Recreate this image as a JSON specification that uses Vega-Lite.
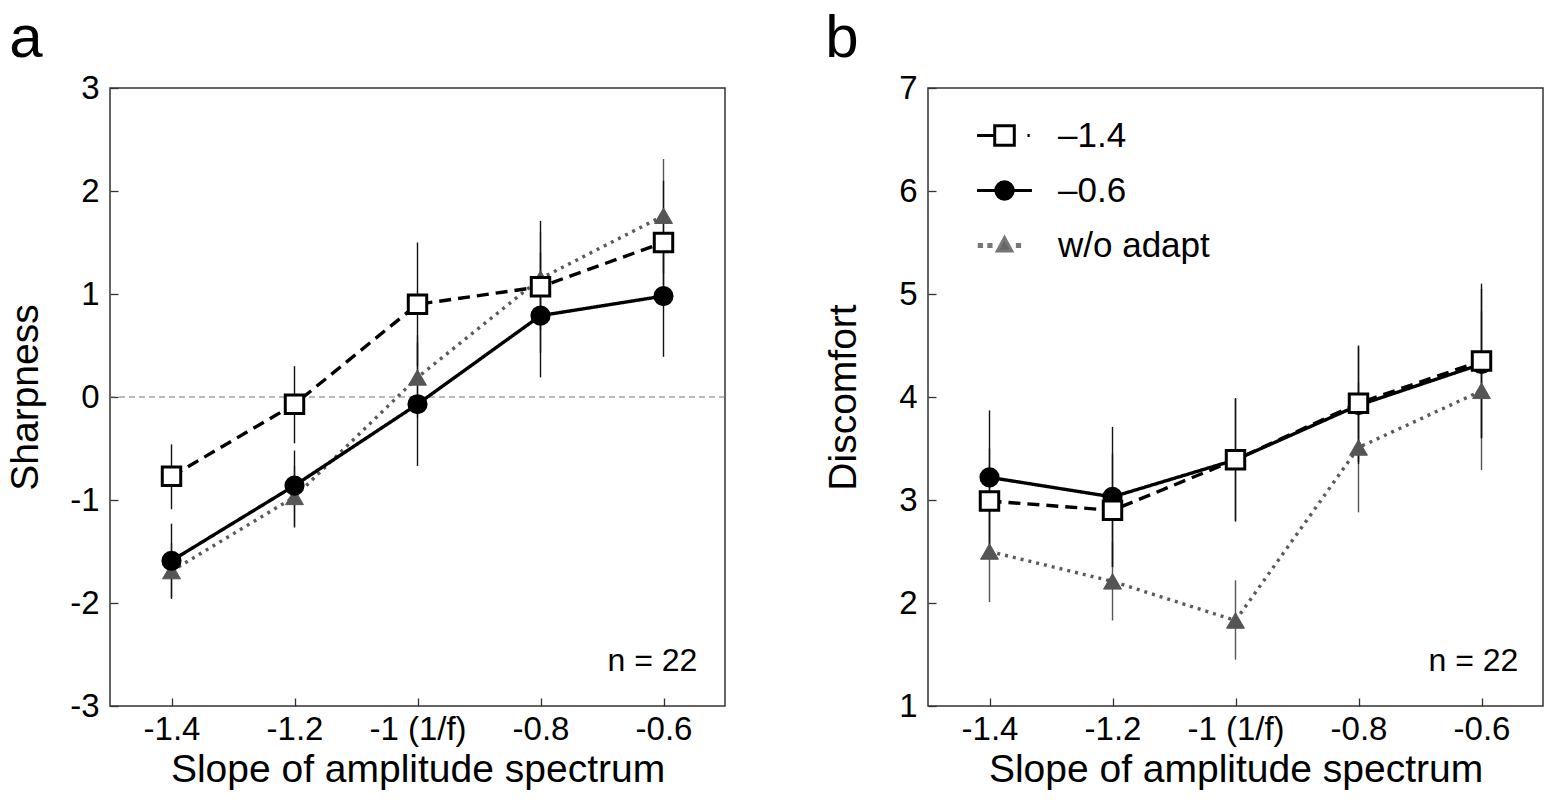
{
  "$schema": "https://vega.github.io/schema/vega-lite/v6.json",
  "padding": {"left": 5, "top": 8, "right": 5, "bottom": 5},
  "background": "white",
  "datasets": {
    "pts": [
      {"panel": "a", "series": "w/o adapt", "slope": -1.4, "mean": -1.69, "lo": -1.95, "hi": -1.42},
      {"panel": "a", "series": "w/o adapt", "slope": -1.2, "mean": -0.97, "lo": -1.27, "hi": -0.67},
      {"panel": "a", "series": "w/o adapt", "slope": -1.0, "mean": 0.19, "lo": -0.2, "hi": 0.6},
      {"panel": "a", "series": "w/o adapt", "slope": -0.8, "mean": 1.15, "lo": 0.65, "hi": 1.6},
      {"panel": "a", "series": "w/o adapt", "slope": -0.6, "mean": 1.76, "lo": 1.2, "hi": 2.31},
      {"panel": "a", "series": "–0.6", "slope": -1.4, "mean": -1.59, "lo": -1.96, "hi": -1.23},
      {"panel": "a", "series": "–0.6", "slope": -1.2, "mean": -0.86, "lo": -1.26, "hi": -0.52},
      {"panel": "a", "series": "–0.6", "slope": -1.0, "mean": -0.07, "lo": -0.67, "hi": 0.53},
      {"panel": "a", "series": "–0.6", "slope": -0.8, "mean": 0.79, "lo": 0.19, "hi": 1.4},
      {"panel": "a", "series": "–0.6", "slope": -0.6, "mean": 0.98, "lo": 0.39, "hi": 1.57},
      {"panel": "a", "series": "–1.4", "slope": -1.4, "mean": -0.77, "lo": -1.09, "hi": -0.46},
      {"panel": "a", "series": "–1.4", "slope": -1.2, "mean": -0.07, "lo": -0.45, "hi": 0.3},
      {"panel": "a", "series": "–1.4", "slope": -1.0, "mean": 0.9, "lo": 0.3, "hi": 1.5},
      {"panel": "a", "series": "–1.4", "slope": -0.8, "mean": 1.07, "lo": 0.43, "hi": 1.71},
      {"panel": "a", "series": "–1.4", "slope": -0.6, "mean": 1.5, "lo": 0.9, "hi": 2.1},
      {"panel": "b", "series": "w/o adapt", "slope": -1.4, "mean": 2.5, "lo": 2.01, "hi": 2.99},
      {"panel": "b", "series": "w/o adapt", "slope": -1.2, "mean": 2.21, "lo": 1.83, "hi": 2.59},
      {"panel": "b", "series": "w/o adapt", "slope": -1.0, "mean": 1.83, "lo": 1.45, "hi": 2.22},
      {"panel": "b", "series": "w/o adapt", "slope": -0.8, "mean": 3.51, "lo": 2.88, "hi": 4.14},
      {"panel": "b", "series": "w/o adapt", "slope": -0.6, "mean": 4.06, "lo": 3.29, "hi": 4.83},
      {"panel": "b", "series": "–0.6", "slope": -1.4, "mean": 3.22, "lo": 2.57, "hi": 3.87},
      {"panel": "b", "series": "–0.6", "slope": -1.2, "mean": 3.03, "lo": 2.35, "hi": 3.71},
      {"panel": "b", "series": "–0.6", "slope": -1.0, "mean": 3.39, "lo": 2.8, "hi": 3.98},
      {"panel": "b", "series": "–0.6", "slope": -0.8, "mean": 3.92, "lo": 3.35, "hi": 4.49},
      {"panel": "b", "series": "–0.6", "slope": -0.6, "mean": 4.32, "lo": 3.6, "hi": 5.05},
      {"panel": "b", "series": "–1.4", "slope": -1.4, "mean": 2.99, "lo": 2.5, "hi": 3.5},
      {"panel": "b", "series": "–1.4", "slope": -1.2, "mean": 2.9, "lo": 2.35, "hi": 3.45},
      {"panel": "b", "series": "–1.4", "slope": -1.0, "mean": 3.39, "lo": 2.79, "hi": 3.99},
      {"panel": "b", "series": "–1.4", "slope": -0.8, "mean": 3.94, "lo": 3.37, "hi": 4.5},
      {"panel": "b", "series": "–1.4", "slope": -0.6, "mean": 4.35, "lo": 3.6, "hi": 5.1}
    ],
    "note": [{"label": "n = 22"}],
    "letterA": [{"label": "a"}],
    "letterB": [{"label": "b"}]
  },
  "hconcat": [
    {
      "width": 615,
      "height": 618,
      "layer": [
        {
          "data": {"name": "note"},
          "mark": {"type": "rule", "stroke": "#777", "strokeWidth": 1, "strokeDash": [6, 4]},
          "encoding": {"y": {"datum": 0, "type": "quantitative", "scale": {"domain": [-3, 3]}}}
        },
        {
          "data": {"name": "pts"},
          "transform": [{"filter": "datum.panel == 'a'"}],
          "mark": {"type": "rule", "strokeWidth": 1.4},
          "encoding": {
            "x": {"field": "slope", "type": "quantitative", "scale": {"domain": [-1.5, -0.5], "nice": false},
                  "axis": {"values": [-1.4, -1.2, -1, -0.8, -0.6], "labelExpr": "datum.value == -1 ? '-1 (1/f)' : '' + datum.value", "title": "Slope of amplitude spectrum"}},
            "y": {"field": "lo", "type": "quantitative", "scale": {"domain": [-3, 3], "nice": false},
                  "axis": {"values": [-3, -2, -1, 0, 1, 2, 3], "labelExpr": "'' + datum.value", "title": "Sharpness"}},
            "y2": {"field": "hi"},
            "stroke": {"field": "series", "type": "nominal", "scale": {"domain": ["–1.4", "–0.6", "w/o adapt"], "range": ["#111", "#111", "#555"]}, "legend": null}
          }
        },
        {
          "data": {"name": "pts"},
          "transform": [{"filter": "datum.panel == 'a'"}],
          "mark": {"type": "line", "strokeWidth": 3.4},
          "encoding": {
            "x": {"field": "slope", "type": "quantitative"},
            "y": {"field": "mean", "type": "quantitative"},
            "stroke": {"field": "series", "type": "nominal", "scale": {"domain": ["–1.4", "–0.6", "w/o adapt"], "range": ["#000", "#000", "#5a5a5a"]}, "legend": null},
            "strokeDash": {"field": "series", "type": "nominal", "scale": {"domain": ["–1.4", "–0.6", "w/o adapt"], "range": [[12, 7], [1, 0], [3, 5]]}, "legend": null}
          }
        },
        {
          "data": {"name": "pts"},
          "transform": [{"filter": "datum.panel == 'a'"}],
          "mark": {"type": "point", "opacity": 1},
          "encoding": {
            "x": {"field": "slope", "type": "quantitative"},
            "y": {"field": "mean", "type": "quantitative"},
            "shape": {"field": "series", "type": "nominal", "scale": {"domain": ["–1.4", "–0.6", "w/o adapt"], "range": ["square", "circle", "triangle-up"]}, "legend": null},
            "fill": {"field": "series", "type": "nominal", "scale": {"domain": ["–1.4", "–0.6", "w/o adapt"], "range": ["#fff", "#000", "#555"]}, "legend": null},
            "stroke": {"field": "series", "type": "nominal", "scale": {"domain": ["–1.4", "–0.6", "w/o adapt"], "range": ["#000", "#000", "#555"]}, "legend": null},
            "size": {"field": "series", "type": "nominal", "scale": {"domain": ["–1.4", "–0.6", "w/o adapt"], "range": [340, 320, 300]}, "legend": null},
            "strokeWidth": {"field": "series", "type": "nominal", "scale": {"domain": ["–1.4", "–0.6", "w/o adapt"], "range": [3, 1, 0.5]}, "legend": null}
          }
        },
        {
          "data": {"name": "note"},
          "mark": {"type": "text", "align": "right", "baseline": "alphabetic", "fontSize": 32, "font": "Liberation Sans", "color": "black"},
          "encoding": {"text": {"field": "label"}, "x": {"datum": -0.545, "type": "quantitative"}, "y": {"datum": -2.66, "type": "quantitative"}}
        },
        {
          "data": {"name": "letterA"},
          "mark": {"type": "text", "align": "left", "baseline": "alphabetic", "fontSize": 60, "font": "Liberation Sans", "color": "black"},
          "encoding": {"text": {"field": "label"}, "x": {"datum": -1.664, "type": "quantitative"}, "y": {"datum": 3.3, "type": "quantitative"}}
        }
      ],
      "resolve": {"scale": {"stroke": "independent", "fill": "independent", "shape": "independent", "size": "independent", "strokeWidth": "independent", "strokeDash": "independent"}}
    },
    {
      "width": 615,
      "height": 618,
      "layer": [
        {
          "data": {"name": "pts"},
          "transform": [{"filter": "datum.panel == 'b'"}],
          "mark": {"type": "rule", "strokeWidth": 1.4},
          "encoding": {
            "x": {"field": "slope", "type": "quantitative", "scale": {"domain": [-1.5, -0.5], "nice": false},
                  "axis": {"values": [-1.4, -1.2, -1, -0.8, -0.6], "labelExpr": "datum.value == -1 ? '-1 (1/f)' : '' + datum.value", "title": "Slope of amplitude spectrum"}},
            "y": {"field": "lo", "type": "quantitative", "scale": {"domain": [1, 7], "nice": false},
                  "axis": {"values": [1, 2, 3, 4, 5, 6, 7], "labelExpr": "'' + datum.value", "title": "Discomfort"}},
            "y2": {"field": "hi"},
            "stroke": {"field": "series", "type": "nominal", "scale": {"domain": ["–1.4", "–0.6", "w/o adapt"], "range": ["#111", "#111", "#555"]}, "legend": null}
          }
        },
        {
          "data": {"name": "pts"},
          "transform": [{"filter": "datum.panel == 'b'"}],
          "mark": {"type": "line", "strokeWidth": 3.4},
          "encoding": {
            "x": {"field": "slope", "type": "quantitative"},
            "y": {"field": "mean", "type": "quantitative"},
            "stroke": {"field": "series", "type": "nominal", "scale": {"domain": ["–1.4", "–0.6", "w/o adapt"], "range": ["#000", "#000", "#5a5a5a"]}, "legend": null},
            "strokeDash": {"field": "series", "type": "nominal", "scale": {"domain": ["–1.4", "–0.6", "w/o adapt"], "range": [[12, 7], [1, 0], [3, 5]]}, "legend": null}
          }
        },
        {
          "data": {"name": "pts"},
          "transform": [{"filter": "datum.panel == 'b'"}],
          "mark": {"type": "point", "opacity": 1},
          "encoding": {
            "x": {"field": "slope", "type": "quantitative"},
            "y": {"field": "mean", "type": "quantitative"},
            "shape": {"field": "series", "type": "nominal", "scale": {"domain": ["–1.4", "–0.6", "w/o adapt"], "range": ["square", "circle", "triangle-up"]}, "legend": null},
            "fill": {"field": "series", "type": "nominal", "scale": {"domain": ["–1.4", "–0.6", "w/o adapt"], "range": ["#fff", "#000", "#555"]}, "legend": null},
            "stroke": {"field": "series", "type": "nominal", "scale": {"domain": ["–1.4", "–0.6", "w/o adapt"], "range": ["#000", "#000", "#555"]}, "legend": null},
            "size": {"field": "series", "type": "nominal", "scale": {"domain": ["–1.4", "–0.6", "w/o adapt"], "range": [340, 320, 300]}, "legend": null},
            "strokeWidth": {"field": "series", "type": "nominal", "scale": {"domain": ["–1.4", "–0.6", "w/o adapt"], "range": [3, 1, 0.5]}, "legend": null}
          }
        },
        {
          "data": {"name": "pts"},
          "transform": [{"filter": "false"}],
          "mark": {"type": "point", "opacity": 1, "size": 3136, "strokeWidth": 3},
          "encoding": {
            "x": {"field": "slope", "type": "quantitative"},
            "y": {"field": "mean", "type": "quantitative"},
            "shape": {"field": "series", "type": "nominal", "title": null,
                      "scale": {"domain": ["–1.4", "–0.6", "w/o adapt"],
                                "range": ["M-0.98,0H-0.35M-0.35,-0.35H0.35V0.35H-0.35ZM0.82,0H0.9",
                                          "M-0.98,0H0.98M0.31,0C0.31,0.1712,0.1712,0.31,0,0.31C-0.1712,0.31,-0.31,0.1712,-0.31,0C-0.31,-0.1712,-0.1712,-0.31,0,-0.31C0.1712,-0.31,0.31,-0.1712,0.31,0Z",
                                          "M-0.9,-0.04H-0.82V0.04H-0.9ZM-0.56,-0.04H-0.48V0.04H-0.56ZM-0.26,0.2L0,-0.28L0.26,0.2ZM0.46,-0.04H0.54V0.04H0.46Z"]},
                      "legend": {"orient": "none", "legendX": 47, "legendY": 18, "symbolSize": 3136, "symbolStrokeWidth": 3, "labelFontSize": 35, "labelFont": "Liberation Sans", "labelColor": "black", "labelOffset": 24, "rowPadding": 7, "padding": 0, "labelLimit": 400}},
            "fill": {"field": "series", "type": "nominal", "title": null, "scale": {"domain": ["–1.4", "–0.6", "w/o adapt"], "range": ["#fff", "#000", "#666"]}},
            "stroke": {"field": "series", "type": "nominal", "title": null, "scale": {"domain": ["–1.4", "–0.6", "w/o adapt"], "range": ["#000", "#000", "#777"]}}
          }
        },
        {
          "data": {"name": "note"},
          "mark": {"type": "text", "align": "right", "baseline": "alphabetic", "fontSize": 32, "font": "Liberation Sans", "color": "black"},
          "encoding": {"text": {"field": "label"}, "x": {"datum": -0.54, "type": "quantitative"}, "y": {"datum": 1.34, "type": "quantitative"}}
        },
        {
          "data": {"name": "letterB"},
          "mark": {"type": "text", "align": "left", "baseline": "alphabetic", "fontSize": 60, "font": "Liberation Sans", "color": "black"},
          "encoding": {"text": {"field": "label"}, "x": {"datum": -1.667, "type": "quantitative"}, "y": {"datum": 7.3, "type": "quantitative"}}
        }
      ],
      "resolve": {"scale": {"stroke": "independent", "fill": "independent", "shape": "independent", "size": "independent", "strokeWidth": "independent", "strokeDash": "independent"}}
    }
  ],
  "spacing": 96,
  "config": {
    "font": "Liberation Sans",
    "view": {"stroke": "#333", "strokeWidth": 1.5},
    "axis": {
      "labelFont": "Liberation Sans", "labelFontSize": 33, "labelColor": "black",
      "titleFont": "Liberation Sans", "titleFontSize": 39, "titleFontWeight": "normal", "titleColor": "black",
      "grid": false, "domain": false, "tickColor": "#333", "tickWidth": 1.3, "tickSize": -8, "labelPadding": 19
    },
    "axisX": {"titlePadding": 4, "labelPadding": 15},
    "axisY": {"titleX": -65}
  }
}
